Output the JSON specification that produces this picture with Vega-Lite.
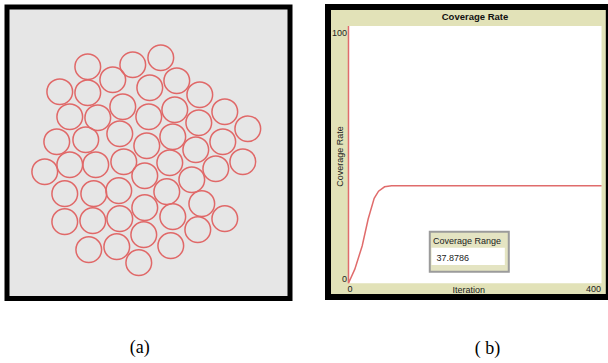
{
  "$schema": "https://vega.github.io/schema/vega-lite/v6.json",
  "background": "white",
  "padding": {"left": 4, "top": 4, "right": 0, "bottom": 0},
  "spacing": 32,
  "config": {
    "axis": {
      "domain": false, "ticks": false, "tickSize": 0, "grid": false,
      "labelFont": "Liberation Sans", "labelFontSize": 9, "labelColor": "#222222",
      "titleFont": "Liberation Sans", "titleFontSize": 9, "titleFontWeight": "normal", "titleColor": "#222222",
      "labelFlush": false, "zindex": 1
    },
    "axisX": {"offset": -13.7, "labelPadding": 1, "titleX": 140.2, "titleY": 6, "titleBaseline": "middle", "titleAlign": "center"},
    "axisY": {"offset": -20.5, "labelPadding": 2, "titleX": -9, "titleY": 149, "titleAngle": -90, "titleBaseline": "middle", "titleAlign": "center"}
  },
  "hconcat": [
    {
      "width": 283,
      "height": 291.5,
      "view": {"fill": "#e6e6e6", "stroke": "black", "strokeWidth": 5},
      "title": {"text": "(a)", "orient": "bottom", "font": "Liberation Serif", "fontSize": 18, "fontWeight": "normal", "color": "black", "dx": -8.7, "offset": 49, "baseline": "middle", "anchor": "middle"},
      "data": {"values": [
        {"x": 87, "y": 66}, {"x": 132, "y": 64}, {"x": 160, "y": 57}, {"x": 112, "y": 79}, {"x": 149, "y": 87},
        {"x": 176, "y": 80}, {"x": 59, "y": 91}, {"x": 87, "y": 92}, {"x": 199, "y": 94}, {"x": 122, "y": 106},
        {"x": 174, "y": 109}, {"x": 69, "y": 116}, {"x": 97, "y": 117}, {"x": 148, "y": 116}, {"x": 224, "y": 111},
        {"x": 198, "y": 122}, {"x": 247, "y": 128}, {"x": 119, "y": 133}, {"x": 172, "y": 136}, {"x": 56, "y": 141},
        {"x": 85, "y": 139}, {"x": 146, "y": 145}, {"x": 222, "y": 141}, {"x": 195, "y": 149}, {"x": 242, "y": 161},
        {"x": 44, "y": 171}, {"x": 69, "y": 164}, {"x": 95, "y": 164}, {"x": 123, "y": 161}, {"x": 169, "y": 162},
        {"x": 215, "y": 168}, {"x": 144, "y": 175}, {"x": 191, "y": 179}, {"x": 64, "y": 193}, {"x": 93, "y": 193},
        {"x": 118, "y": 190}, {"x": 166, "y": 191}, {"x": 201, "y": 203}, {"x": 144, "y": 207}, {"x": 64, "y": 221},
        {"x": 92, "y": 220}, {"x": 119, "y": 218}, {"x": 172, "y": 216}, {"x": 224, "y": 218}, {"x": 197, "y": 229},
        {"x": 143, "y": 234}, {"x": 88, "y": 249}, {"x": 116, "y": 246}, {"x": 170, "y": 245}, {"x": 138, "y": 262}
      ]},
      "mark": {"type": "point", "shape": "circle", "filled": false, "size": 660, "stroke": "#e06868", "strokeWidth": 1.5, "opacity": 1},
      "encoding": {
        "x": {"field": "x", "type": "quantitative", "scale": {"domain": [6.25, 289.2], "nice": false, "zero": false}, "axis": null},
        "y": {"field": "y", "type": "quantitative", "scale": {"domain": [6.25, 297.8], "nice": false, "zero": false, "reverse": true}, "axis": null}
      }
    },
    {
      "title": {"text": "( b)", "orient": "bottom", "font": "Liberation Serif", "fontSize": 18, "fontWeight": "normal", "color": "black", "dx": 19, "offset": 49, "baseline": "middle", "anchor": "middle"},
      "hconcat": [
        {
          "width": 280.8,
          "height": 290,
          "view": {"fill": "#e2e2b8", "stroke": "black", "strokeWidth": 6},
          "title": {"text": "Coverage Rate", "orient": "top", "offset": -19, "baseline": "middle", "font": "Liberation Sans", "fontSize": 9.5, "fontWeight": "bold", "dx": 6.6, "anchor": "middle", "color": "#111111"},
          "layer": [
            {
              "data": {"values": [{}]},
              "mark": {"type": "rect", "fill": "white"},
              "encoding": {
                "x": {"datum": 0, "type": "quantitative", "title": "Iteration", "scale": {"domain": [-32.4, 411.5], "nice": false, "zero": false}},
                "x2": {"datum": 400},
                "y": {"datum": 0, "type": "quantitative", "title": "Coverage Rate", "scale": {"domain": [-5.32, 107.38], "nice": false, "zero": false}},
                "y2": {"datum": 100}
              }
            },
            {
              "data": {"values": [
                {"step": 0, "iteration": 0, "coverage": 100},
                {"step": 1, "iteration": 0, "coverage": 0},
                {"step": 2, "iteration": 2.1, "coverage": 1.2},
                {"step": 3, "iteration": 10, "coverage": 5.5},
                {"step": 4, "iteration": 21.6, "coverage": 14.5},
                {"step": 5, "iteration": 31.1, "coverage": 25.0},
                {"step": 6, "iteration": 40.6, "coverage": 33.0},
                {"step": 7, "iteration": 47.5, "coverage": 35.8},
                {"step": 8, "iteration": 57, "coverage": 37.5},
                {"step": 9, "iteration": 68, "coverage": 37.88},
                {"step": 10, "iteration": 400, "coverage": 37.88}
              ]},
              "mark": {"type": "line", "color": "#e06c6c", "strokeWidth": 1.5},
              "encoding": {
                "x": {"field": "iteration", "type": "quantitative", "title": "Iteration", "axis": {"values": [0, 400], "labelAlign": {"condition": {"test": "datum.value >= 400", "value": "right"}, "value": "left"}, "labelOffset": {"condition": {"test": "datum.value >= 400", "value": -1}, "value": -1.5}}},
                "y": {"field": "coverage", "type": "quantitative", "title": "Coverage Rate", "axis": {"values": [0, 100], "labelBaseline": {"condition": {"test": "datum.value >= 100", "value": "top"}, "value": "bottom"}, "labelOffset": {"condition": {"test": "datum.value >= 100", "value": 3}, "value": 0}}},
                "order": {"field": "step", "type": "quantitative"}
              }
            },
            {
              "data": {"values": [{"label": "Coverage Range", "value": "37.8786"}]},
              "layer": [
                {
                  "mark": {"type": "rect", "fill": "#e4e4c2", "stroke": "#9b9b9b", "strokeWidth": 2},
                  "encoding": {
                    "x": {"datum": 128.5, "type": "quantitative", "title": "Iteration"},
                    "x2": {"datum": 253.4},
                    "y": {"datum": 20.05, "type": "quantitative", "title": "Coverage Rate"},
                    "y2": {"datum": 4.5}
                  }
                },
                {
                  "mark": {"type": "rect", "fill": "white"},
                  "encoding": {
                    "x": {"datum": 131.2, "type": "quantitative", "title": "Iteration"},
                    "x2": {"datum": 247.1},
                    "y": {"datum": 13.8, "type": "quantitative", "title": "Coverage Rate"},
                    "y2": {"datum": 7.1}
                  }
                },
                {
                  "mark": {"type": "text", "align": "left", "baseline": "middle", "font": "Liberation Sans", "fontSize": 9, "color": "#222222"},
                  "encoding": {
                    "x": {"datum": 133.5, "type": "quantitative", "title": "Iteration"},
                    "y": {"datum": 16.25, "type": "quantitative", "title": "Coverage Rate"},
                    "text": {"field": "label"}
                  }
                },
                {
                  "mark": {"type": "text", "align": "left", "baseline": "middle", "font": "Liberation Sans", "fontSize": 9, "color": "#222222"},
                  "encoding": {
                    "x": {"datum": 139.1, "type": "quantitative", "title": "Iteration"},
                    "y": {"datum": 9.83, "type": "quantitative", "title": "Coverage Rate"},
                    "text": {"field": "value"}
                  }
                }
              ]
            }
          ]
        }
      ]
    }
  ]
}
